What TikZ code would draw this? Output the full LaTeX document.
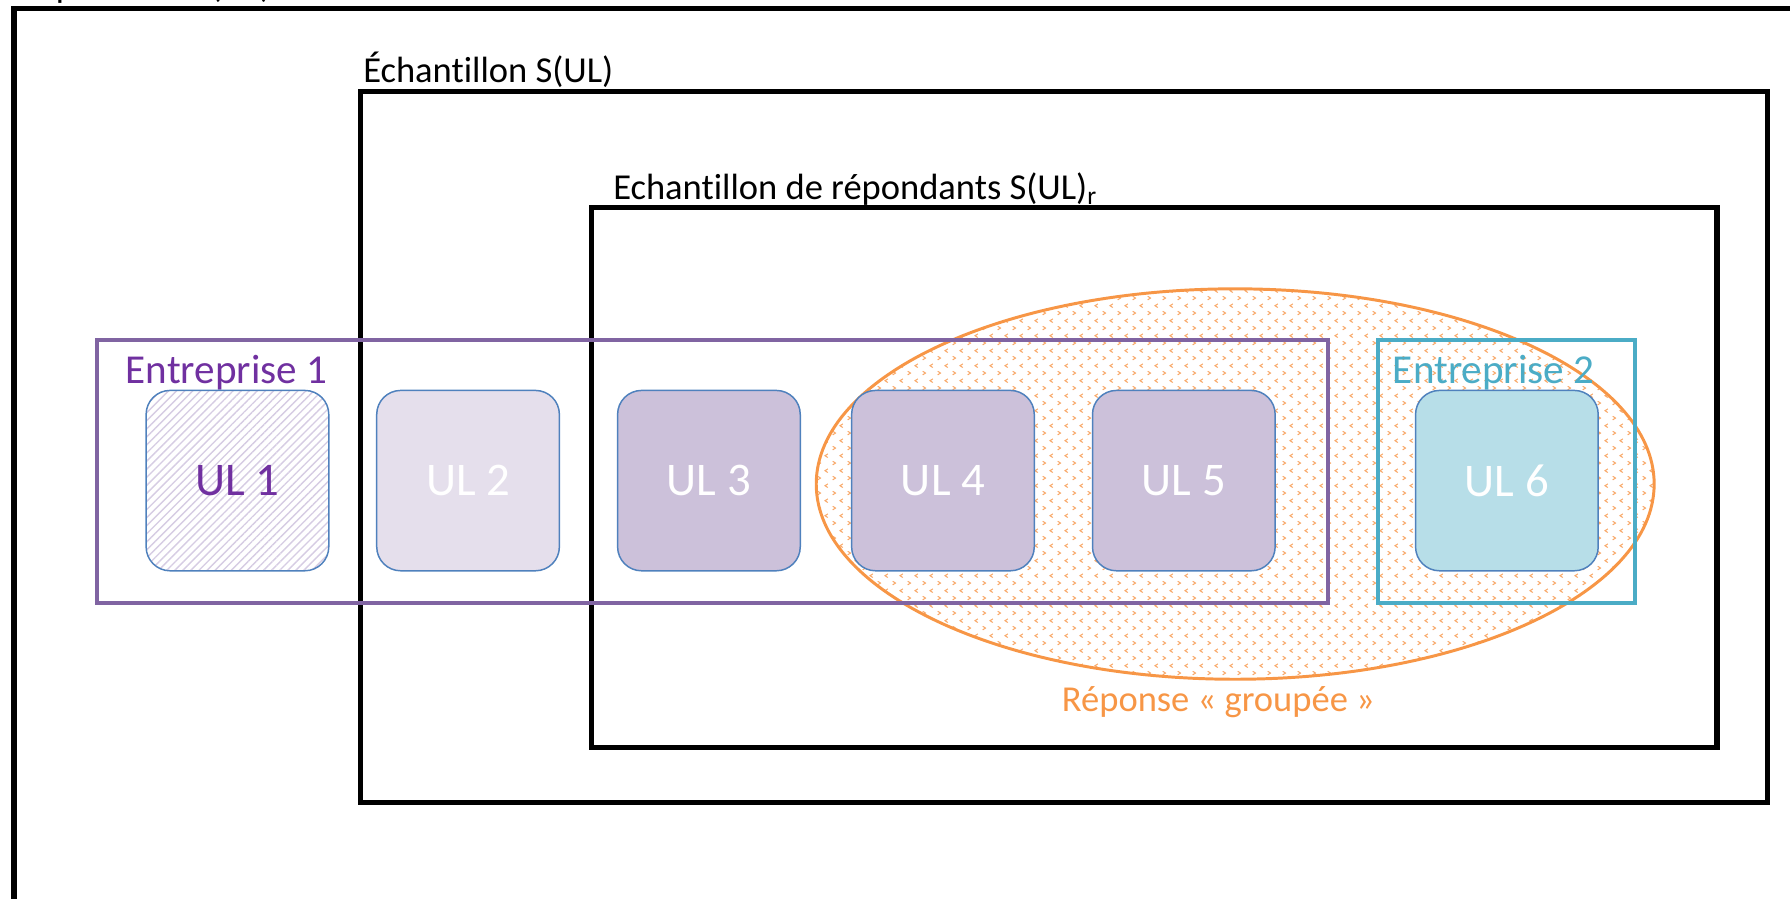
\documentclass[tikz,border=0pt]{standalone}
\usepackage{fontspec}
\setmainfont{Carlito}[Ligatures={NoCommon}]
\usetikzlibrary{patterns.meta,shapes.geometric}
\definecolor{purpline}{HTML}{8064A2}
\definecolor{purptext}{HTML}{7030A0}
\definecolor{tealc}{HTML}{4BACC6}
\definecolor{orangec}{HTML}{F79646}
\definecolor{orangelt}{HTML}{F8A868}
\definecolor{bluec}{HTML}{4F81BD}
\definecolor{fillA}{HTML}{E5DFEC}
\definecolor{fillB}{HTML}{CCC1DA}
\definecolor{fillC}{HTML}{B7DEE8}
\definecolor{hatchc}{HTML}{D6CCE3}
\tikzdeclarepattern{
  name=chevrons,
  type=uncolored,
  bounding box={(0pt,0pt) and (13pt,13pt)},
  tile size={(13pt,13pt)},
  code={
    \draw[line width=0.9pt] (1.5pt,1pt) -- (4pt,2.6pt) -- (1.5pt,4.2pt);
    \draw[line width=0.9pt] (10.5pt,7.5pt) -- (8pt,9.1pt) -- (10.5pt,10.7pt);
  }
}
\begin{document}
\begin{tikzpicture}[x=1pt,y=-1pt,
  lbl/.style={anchor=base west,inner sep=0pt,font=\fontsize{32}{38}\selectfont},
  blackbox/.style={draw=black,line width=4.5pt},
  ulbox/.style={draw=bluec,line width=1.3pt,rounded corners=21pt,minimum width=160pt,minimum height=158pt,inner sep=0pt,text=white,font=\fontsize{41}{48}\selectfont},
  entbox/.style={line width=3.5pt},
  entlbl/.style={anchor=base west,inner sep=0pt,font=\fontsize{36}{42}\selectfont}
]
\useasboundingbox (0,0) rectangle (1568,787);
% outer population frame
\draw[blackbox,line width=4.6pt] (1600,7.3) -- (12.3,7.3) -- (12.3,820);
\node[lbl] (poplbl) at (16,-2.5) {Population U(UL)};
% sample frames
\draw[blackbox] (316,80) rectangle (1548,703);
\node[lbl] (echlbl) at (318,72) {Échantillon S(UL)};
\draw[blackbox] (518,182) rectangle (1504,655);
\node[lbl] (replbl) at (537,175) {Echantillon de répondants S(UL)\textsubscript{r}};
% grouped response ellipse
\node[ellipse,draw=orangec,line width=2.6pt,pattern=chevrons,pattern color=orangelt,
  minimum width=734pt,minimum height=342pt,inner sep=0pt] (grp) at (1082,424) {};
\node[lbl,text=orangec] (grplbl) at (930,623) {Réponse « groupée »};
% enterprises
\draw[entbox,draw=purpline] (85,298) rectangle (1163,528);
\node[entlbl,text=purptext] (ent1lbl) at (110,336) {Entreprise 1};
\draw[entbox,draw=tealc] (1207,298) rectangle (1432,528);
\node[entlbl,text=tealc] (ent2lbl) at (1220,336) {Entreprise 2};
% units
\node[ulbox,preaction={fill=white},pattern={Lines[angle=45,distance=5pt,line width=1.2pt]},pattern color=hatchc,text=purptext] (ul1) at (208,421) {UL 1};
\node[ulbox,fill=fillA] (ul2) at (410,421) {UL 2};
\node[ulbox,fill=fillB] (ul3) at (621,421) {UL 3};
\node[ulbox,fill=fillB] (ul4) at (826,421) {UL 4};
\node[ulbox,fill=fillB] (ul5) at (1037,421) {UL 5};
\node[ulbox,fill=fillC] (ul6) at (1320,421) {UL 6};
\end{tikzpicture}
\end{document}
